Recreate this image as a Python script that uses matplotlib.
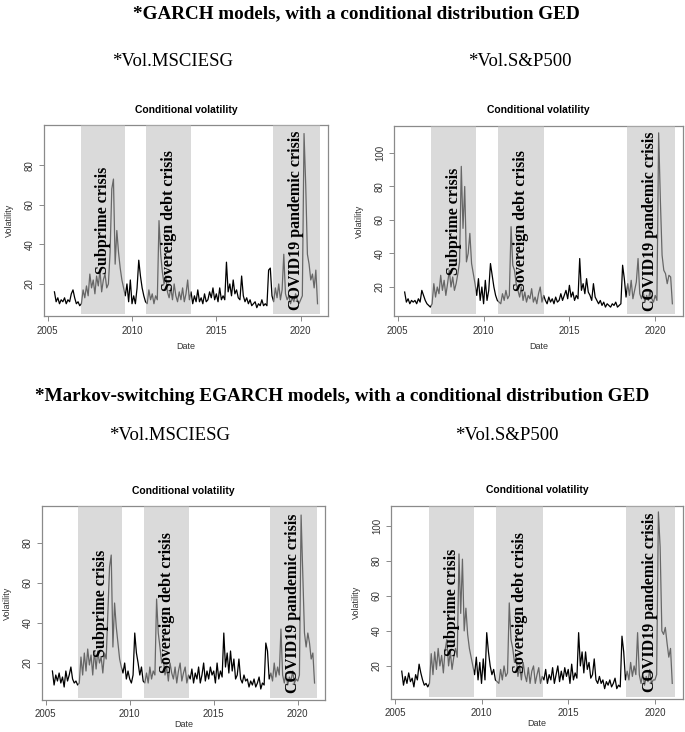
import numpy as np
import matplotlib.pyplot as plt
import matplotlib.transforms as mtransforms

# time grid (decimal years), one reading every 0.1 year
years = np.round(np.arange(2005.4, 2021.05, 0.1), 1)

# GARCH - Vol.MSCIESG
garch_msci = [16, 11, 13, 10, 12, 11,
              13, 10, 12, 11, 15, 17, 13, 10, 11, 9,
              10, 17, 13, 19, 14, 25, 18, 22, 15, 24,
              19, 27, 16, 22, 25, 18, 20, 36, 68, 73,
              30, 47, 36, 28, 22, 18, 14, 20, 11, 22,
              10, 14, 10, 18, 32, 24, 18, 14, 11, 10,
              17, 12, 15, 10, 14, 12, 52, 35, 26, 20,
              24, 16, 13, 18, 12, 20, 14, 11, 16, 12,
              18, 11, 15, 22, 12, 16, 10, 14, 11, 17,
              11, 13, 10, 15, 11, 12, 16, 13, 18, 12,
              15, 11, 18, 12, 14, 12, 31, 16, 20, 14,
              22, 15, 17, 13, 12, 24, 14, 11, 13, 10,
              12, 9, 10, 11, 8, 10, 9, 12, 9, 10,
              9, 27, 28, 14, 11, 18, 13, 20, 12, 17,
              35, 15, 12, 14, 10, 13, 11, 15, 12, 10,
              12, 14, 96, 70, 35, 30, 22, 25, 18, 27,
              10]

# GARCH - Vol.S&P500
garch_sp = [17, 11, 13, 10, 12, 11,
            12, 10, 13, 11, 18, 15, 12, 10, 9, 8,
            10, 22, 14, 20, 16, 27, 18, 24, 15, 22,
            30, 20, 26, 18, 22, 28, 35, 92, 55, 80,
            35, 40, 52, 34, 28, 22, 15, 25, 12, 20,
            10, 24, 12, 18, 34, 27, 20, 15, 12, 11,
            10, 16, 12, 18, 13, 15, 56, 33, 30, 22,
            18, 14, 20, 12, 17, 11, 15, 13, 19, 11,
            14, 10, 16, 20, 11, 15, 12, 10, 14, 11,
            13, 10, 14, 11, 12, 16, 12, 15, 18, 13,
            21, 14, 17, 12, 15, 13, 37, 18, 22, 16,
            25, 17, 15, 12, 22, 14, 12, 10, 12, 9,
            11, 8, 10, 9, 8, 10, 9, 11, 8, 9,
            10, 33, 25, 14, 22, 15, 24, 13, 18, 23,
            37, 16, 13, 17, 11, 15, 12, 18, 13, 11,
            15, 12, 112, 72, 39, 30, 28, 22, 27, 26,
            10]

# MS-EGARCH - Vol.MSCIESG
msegarch_msci = [16, 9, 14, 11, 15, 10,
                 13, 8, 16, 11, 14, 18, 12, 10, 11, 9,
                 10, 23, 14, 25, 16, 27, 19, 24, 14, 26,
                 17, 26, 20, 23, 15, 25, 22, 45, 68, 74,
                 28, 50, 38, 30, 22, 18, 15, 20, 12, 16,
                 12, 10, 14, 35, 25, 20, 14, 18, 11, 10,
                 15, 10, 18, 12, 16, 14, 52, 35, 28, 20,
                 22, 14, 18, 11, 20, 15, 12, 18, 10, 16,
                 20, 11, 15, 18, 10, 14, 12, 17, 10, 15,
                 12, 18, 10, 14, 20, 11, 16, 12, 18, 14,
                 16, 10, 20, 12, 16, 13, 35, 18, 25, 15,
                 26, 16, 22, 12, 14, 22, 12, 10, 14, 11,
                 12, 8, 11, 9, 12, 8, 10, 13, 7, 10,
                 9, 30, 26, 12, 15, 11, 20, 13, 18, 14,
                 37, 14, 10, 15, 9, 13, 11, 16, 10, 12,
                 11, 14, 94, 65, 35, 28, 35, 30, 22, 25,
                 10]

# MS-EGARCH - Vol.S&P500
msegarch_sp = [17, 9, 14, 10, 16, 11,
               13, 8, 15, 12, 21, 16, 12, 9, 10, 8,
               10, 27, 15, 28, 18, 30, 20, 26, 16, 29,
               35, 20, 28, 18, 25, 30, 25, 84, 50, 81,
               40, 53, 38, 30, 25, 20, 15, 25, 12, 22,
               10, 24, 12, 39, 28, 20, 15, 18, 12, 11,
               10, 18, 12, 20, 14, 16, 56, 35, 30, 22,
               25, 14, 20, 12, 22, 15, 11, 19, 10, 17,
               20, 10, 15, 19, 10, 14, 12, 18, 10, 15,
               12, 19, 10, 15, 20, 11, 17, 12, 19, 14,
               18, 10, 21, 12, 16, 13, 39, 20, 28, 16,
               28, 18, 22, 13, 15, 24, 12, 10, 14, 10,
               12, 7, 11, 9, 12, 8, 10, 13, 7, 9,
               8, 37, 28, 12, 17, 12, 22, 14, 20, 15,
               39, 15, 10, 16, 9, 14, 11, 18, 10, 12,
               12, 15, 108, 88, 40, 38, 42, 33, 25, 30,
               10]

crisis_names = ["Subprime crisis", "Sovereign debt crisis", "COVID19 pandemic crisis"]
crisis_start = [2006.95, 2010.85, 2018.35]
crisis_end = [2009.57, 2013.52, 2021.15]
crisis_label_x = [2008.3, 2012.2, 2019.72]

xticks = [2005, 2010, 2015, 2020]

SERIF = "Liberation Serif"
SANS = "Liberation Sans"
GREY = "#8a8a8a"


def draw_panel(ax, vals, ylim, yticks, xpad, date_pad):
    ax.plot(years, vals, color="black", lw=0.9, zorder=2)
    for s, e in zip(crisis_start, crisis_end):
        ax.axvspan(s, e, ymin=0.012, ymax=1, color=(0.74, 0.74, 0.74), alpha=0.55,
                   lw=0, zorder=3)
    trans = mtransforms.blended_transform_factory(ax.transData, ax.transAxes)
    for name, x in zip(crisis_names, crisis_label_x):
        ax.text(x, 0.5, name, transform=trans, rotation=90, ha="center", va="center",
                family=SERIF, weight="bold", fontsize=11.5, zorder=4)
    ax.set_xlim(2004.78, 2021.62)
    ax.set_ylim(*ylim)
    ax.set_xticks(xticks)
    ax.set_yticks(yticks)
    ax.set_xticklabels([str(t) for t in xticks], family=SANS, fontsize=7, color="#333333")
    ax.set_yticklabels([str(t) for t in yticks], family=SANS, fontsize=7, color="#333333",
                       rotation=90, va="center")
    ax.tick_params(length=3.5, width=0.7, color=GREY, pad=3)
    ax.tick_params(axis="x", pad=xpad)
    for sp in ax.spines.values():
        sp.set_color(GREY)
        sp.set_linewidth(0.9)
    ax.set_title("Conditional volatility", family=SANS, weight="bold", fontsize=7.5, pad=9)
    ax.set_xlabel("Date", family=SANS, fontsize=6.5, color="#333333", labelpad=date_pad)
    ax.set_ylabel("Volatility", family=SANS, fontsize=6.5, color="#333333", labelpad=8)


fig = plt.figure(figsize=(6.85, 7.32), dpi=100)

ax_tl = fig.add_axes([0.0642, 0.5683, 0.4146, 0.2609])
ax_tr = fig.add_axes([0.5752, 0.5683, 0.4219, 0.2596])
ax_bl = fig.add_axes([0.0613, 0.0437, 0.4131, 0.2650])
ax_br = fig.add_axes([0.5708, 0.0451, 0.4263, 0.2637])

draw_panel(ax_tl, garch_msci, (3.8, 100.3), [20, 40, 60, 80], 4, 4)
draw_panel(ax_tr, garch_sp, (2.7, 116.1), [20, 40, 60, 80, 100], 4, 4)
draw_panel(ax_bl, msegarch_msci, (1.5, 98.5), [20, 40, 60, 80], 3, 0.5)
draw_panel(ax_br, msegarch_sp, (1.1, 111.4), [20, 40, 60, 80, 100], 3, 0.5)

fig.text(0.52, 1 - 14 / 732, "*GARCH models, with a conditional distribution GED",
         ha="center", va="center", family=SERIF, weight="bold", fontsize=13.8)
fig.text(173 / 685, 1 - 62 / 732, "*Vol.MSCIESG", ha="center", va="center",
         family=SERIF, fontsize=13.5)
fig.text(520 / 685, 1 - 62 / 732, "*Vol.S&P500", ha="center", va="center",
         family=SERIF, fontsize=13.5)

fig.text(342 / 685, 1 - 396 / 732,
         "*Markov-switching EGARCH models, with a conditional distribution GED",
         ha="center", va="center", family=SERIF, weight="bold", fontsize=13.8)
fig.text(170 / 685, 1 - 436 / 732, "*Vol.MSCIESG", ha="center", va="center",
         family=SERIF, fontsize=13.5)
fig.text(507 / 685, 1 - 436 / 732, "*Vol.S&P500", ha="center", va="center",
         family=SERIF, fontsize=13.5)

fig.savefig("out.png", dpi=100)
